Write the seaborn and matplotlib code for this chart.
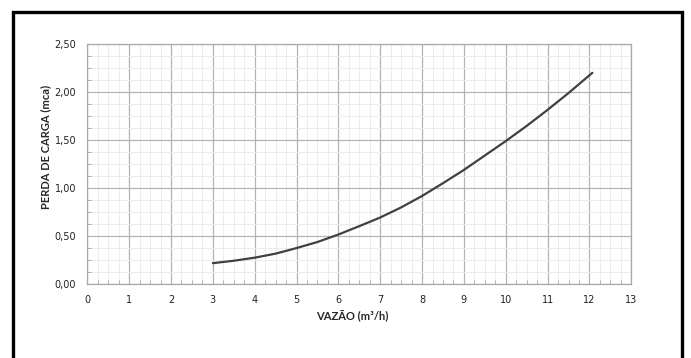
import numpy as np
import pandas as pd
import seaborn as sns
import matplotlib.pyplot as plt
from matplotlib.ticker import MultipleLocator, FuncFormatter
from matplotlib.patches import Rectangle

# dados
vazao = [3.0, 3.5, 4.0, 4.5, 5.0, 5.5, 6.0, 6.5, 7.0, 7.5, 8.0, 8.5, 9.0, 9.5, 10.0, 10.5, 11.0, 11.5, 12.0, 12.07]
perda = [0.22, 0.245, 0.277, 0.319, 0.377, 0.44, 0.518, 0.605, 0.695, 0.80, 0.919, 1.052, 1.19, 1.34, 1.49, 1.648, 1.815, 1.99, 2.175, 2.20]
x_ticks = list(range(0, 14))
y_ticks = [0.0, 0.5, 1.0, 1.5, 2.0, 2.5]

df = pd.DataFrame({"vazao": vazao, "perda": perda})

sns.set_style("white")
plt.rcParams['font.family'] = ['DejaVu Sans']

fig = plt.figure(figsize=(6.91, 3.58), dpi=100)
ax = fig.add_axes([87.3 / 691, 1 - 284.3 / 358, (631.3 - 87.3) / 691, (284.3 - 44) / 358])

# moldura externa
fig.patches.append(Rectangle((13.5 / 691, -0.1), (681.5 - 13.5) / 691, 1.1 - 11.5 / 358,
                             transform=fig.transFigure, fill=False, edgecolor='black', linewidth=2.4))

sns.lineplot(x="vazao", y="perda", data=df, color="#404040", linewidth=1.6, ax=ax)

ax.set_xlim(0, 13)
ax.set_ylim(0, 2.5)
ax.set_xticks(x_ticks)
ax.set_yticks(y_ticks)
ax.xaxis.set_minor_locator(MultipleLocator(0.25))
ax.yaxis.set_minor_locator(MultipleLocator(0.125))
ax.yaxis.set_major_formatter(FuncFormatter(lambda v, p: f"{v:.2f}".replace(".", ",")))

ax.grid(which='major', color='#b4b4b4', linewidth=0.9)
ax.grid(which='minor', color='#ececec', linewidth=0.7)
ax.set_axisbelow(True)
for s in ax.spines.values():
    s.set_color('#a8a8a8')
    s.set_linewidth(0.9)

ax.tick_params(which='major', length=0, labelsize=7, colors='#222222', pad=8)
ax.tick_params(which='minor', direction='in', length=3, color='#a8a8a8', bottom=True, left=True)

ax.set_xlabel("VAZÃO (m³/h)", fontsize=8, fontweight='bold', family=['Lato', 'DejaVu Sans'])
ax.set_ylabel("PERDA DE CARGA (mca)", fontsize=8, fontweight='bold', family=['Lato', 'DejaVu Sans'])
ax.xaxis.set_label_coords(0.4866, -0.108)
ax.yaxis.set_label_coords(-0.067, 0.571)

fig.savefig("out.png", dpi=100)
